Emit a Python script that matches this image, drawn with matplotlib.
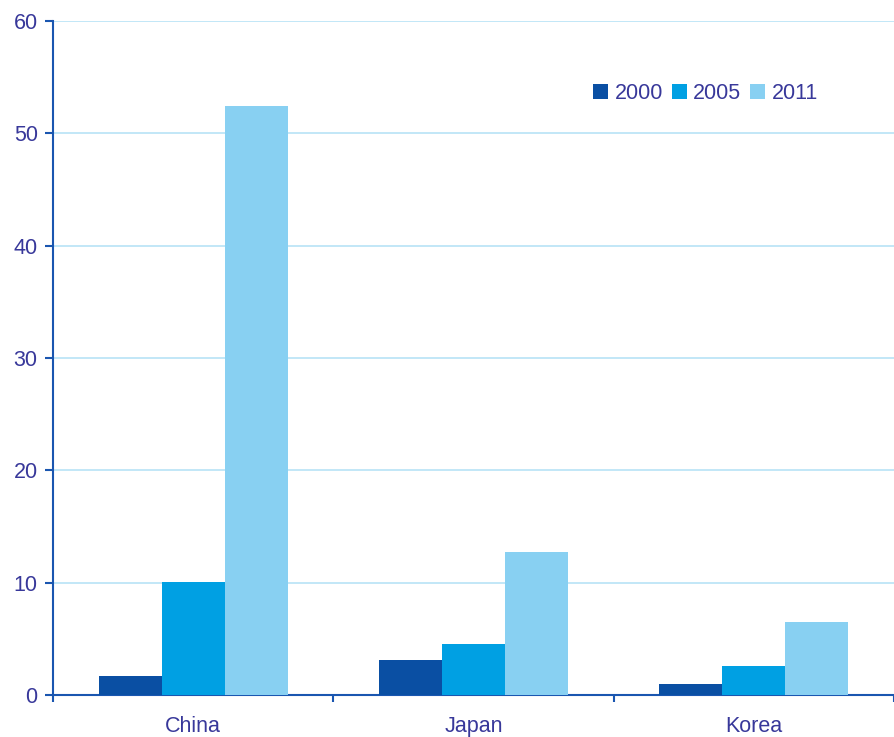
import matplotlib
matplotlib.use("Agg")
import matplotlib.pyplot as plt
import numpy as np

categories = ["China", "Japan", "Korea"]
years = ["2000", "2005", "2011"]
v2000 = [1.7, 3.1, 1.0]
v2005 = [10.1, 4.5, 2.6]
v2011 = [52.4, 12.7, 6.5]
colors = ["#0a4fa3", "#00a0e3", "#88d0f2"]

plt.rcParams['font.family'] = ['Liberation Sans', 'DejaVu Sans']
txt = "#38389a"
axc = "#1a56b0"

fig = plt.figure(figsize=(8.94, 7.37), dpi=100)
ax = fig.add_axes([53/894, 1-695/737, 1-53/894, (695-21)/737])

x = np.arange(len(categories))
w = 0.225
for i, (vals, lab, c) in enumerate(zip([v2000, v2005, v2011], years, colors)):
    ax.bar(x + (i-1)*w, vals, width=w, color=c, label=lab, zorder=3)

ax.set_xlim(-0.5, 2.5)
ax.set_ylim(0, 60)
ax.set_yticks(range(0, 61, 10))
ax.set_xticks(x)
ax.set_xticklabels(categories)
ax.set_xticks([-0.5, 0.5, 1.5, 2.5], minor=True)
ax.tick_params(axis='x', which='major', length=0, pad=15, labelsize=15.5, labelcolor=txt)
ax.tick_params(axis='x', which='minor', length=5, width=1.5, color=axc, direction='out')
ax.tick_params(axis='y', length=6, width=1.5, color=axc, labelsize=15.5, labelcolor=txt, pad=5)
ax.grid(axis='y', color="#b8e3f6", linewidth=1.2, zorder=0)
for s in ['top', 'right']:
    ax.spines[s].set_visible(False)
for s in ['left', 'bottom']:
    ax.spines[s].set_color(axc)
    ax.spines[s].set_linewidth(1.5)

leg = ax.legend(loc='upper left', bbox_to_anchor=(0.632, 0.921), ncol=3, frameon=False,
                handlelength=0.7, handleheight=0.7, handletextpad=0.3, columnspacing=0.4,
                fontsize=15.5, borderaxespad=0)
for t in leg.get_texts():
    t.set_color(txt)

fig.savefig("out.png", dpi=100)
